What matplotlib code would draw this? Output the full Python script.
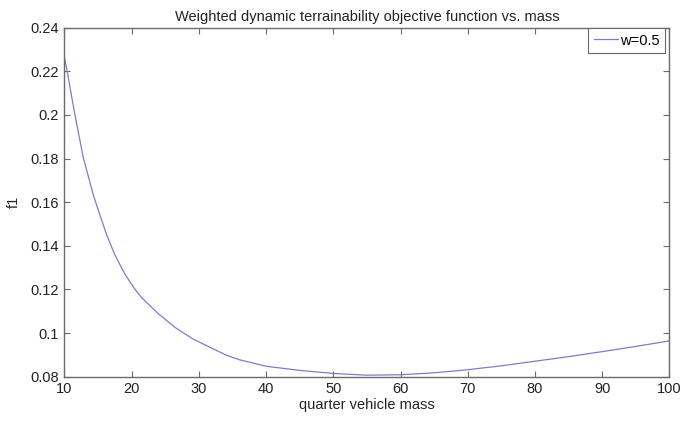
import matplotlib
matplotlib.use("Agg")
import matplotlib.pyplot as plt

plt.rcParams['font.family'] = ['Liberation Sans', 'DejaVu Sans']

mass = [10, 10.4, 11.56, 12.8, 14.29, 15.28, 16.28, 17.51, 19, 20.5, 21.5, 24, 26.5, 29,
        31.5, 34, 36, 40, 45, 50, 55, 60, 65, 70, 75, 80, 85, 90, 95, 100]
f1 = [0.2262, 0.2200, 0.2000, 0.1805, 0.1633, 0.1541, 0.1450, 0.1358, 0.1270, 0.1200,
      0.1162, 0.1088, 0.1025, 0.0975, 0.0937, 0.0900, 0.0878, 0.0848, 0.0829, 0.0815,
      0.0807, 0.0809, 0.0818, 0.0832, 0.0850, 0.0871, 0.0892, 0.0915, 0.0939, 0.0964]

xticks = [10, 20, 30, 40, 50, 60, 70, 80, 90, 100]
yticks = [0.08, 0.1, 0.12, 0.14, 0.16, 0.18, 0.2, 0.22, 0.24]
yticklabels = ['0.08', '0.1', '0.12', '0.14', '0.16', '0.18', '0.2', '0.22', '0.24']

fig = plt.figure(figsize=(6.97, 4.22), dpi=100)
ax = fig.add_axes([0.0925, 0.1073, 0.8678, 0.8271])

ax.plot(mass, f1, color='#7c7cc8', linewidth=0.9, label='w=0.5')

ax.set_xlim(10, 100)
ax.set_ylim(0.08, 0.24)
ax.set_xticks(xticks)
ax.set_xticklabels([str(t) for t in xticks])
ax.set_yticks(yticks)
ax.set_yticklabels(yticklabels)

axcol = '#6a6a6a'
txtcol = '#222222'
fs = 10.5
for s in ax.spines.values():
    s.set_color(axcol)
    s.set_linewidth(1.0)
ax.tick_params(direction='in', length=4, width=0.8, color=axcol,
               top=True, right=True, labelsize=fs, labelcolor=txtcol)
ax.tick_params(axis='x', pad=4)
ax.tick_params(axis='y', pad=4)

ax.set_title('Weighted dynamic terrainability objective function vs. mass',
             fontsize=fs, color=txtcol, pad=5)
ax.set_xlabel('quarter vehicle mass', fontsize=fs, color=txtcol, labelpad=1)
ax.set_ylabel('f1', fontsize=fs, color=txtcol, labelpad=7)

leg = ax.legend(loc='upper right', bbox_to_anchor=(0.9934, 1.0), borderaxespad=0,
                fontsize=fs, fancybox=False, framealpha=1, edgecolor=axcol,
                handlelength=1.7, handletextpad=0.1, borderpad=0.4)
leg.get_frame().set_linewidth(0.8)

fig.savefig('out.png', dpi=100)
